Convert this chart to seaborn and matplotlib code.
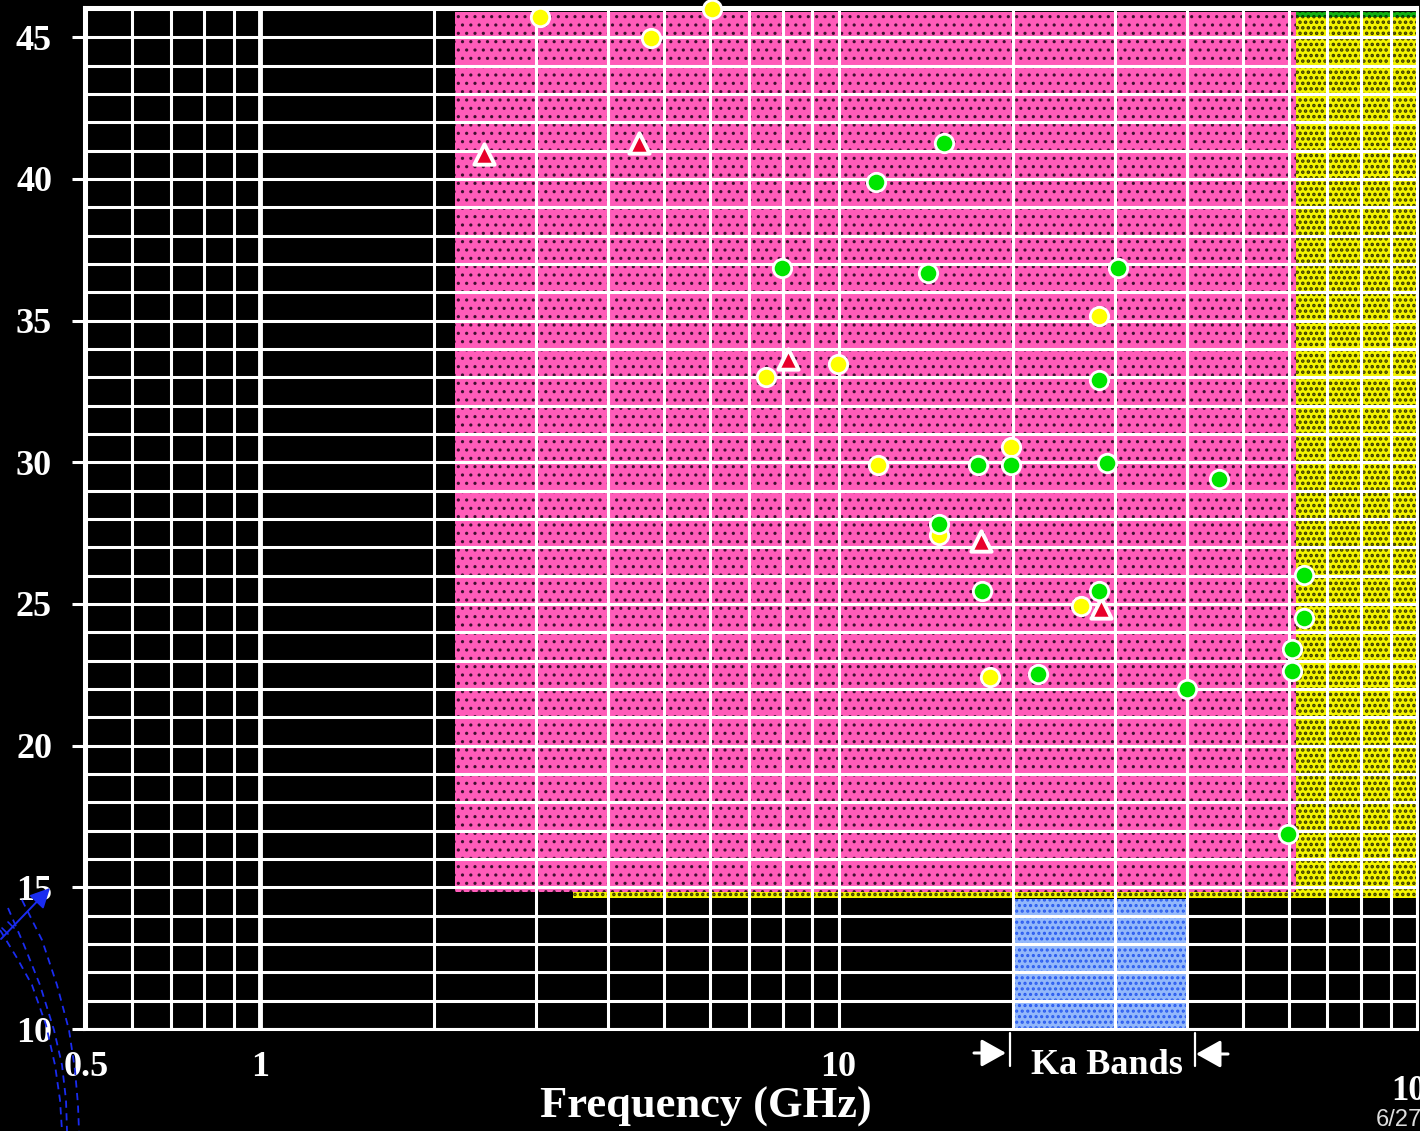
import numpy as np
import pandas as pd
import matplotlib
matplotlib.use("Agg")
import matplotlib.pyplot as plt
import matplotlib.ticker as mticker
import matplotlib.transforms as mtransforms
from matplotlib.patches import Rectangle, FancyArrowPatch
from matplotlib.lines import Line2D
import seaborn as sns

# ---- data -------------------------------------------------------------
yellow_freq = [3.05, 6.04, 4.74, 7.49, 9.98, 11.7, 14.9, 19.9, 18.3, 28.2, 26.2]
yellow_val = [45.72, 46.0, 44.98, 33.0, 33.47, 29.9, 27.43, 30.54, 22.42, 35.16, 24.93]

tri_freq = [2.44, 4.52, 8.18, 17.6, 28.4]
tri_val = [40.88, 41.27, 33.65, 27.22, 24.86]

green_freq = [15.2, 11.6, 7.99, 14.3, 30.4, 28.2, 17.4, 19.9, 29.1, 45.5,
              14.9, 17.7, 28.2, 63.8, 63.8, 60.8, 60.8, 22.1, 40.0, 59.8]
green_val = [41.27, 39.89, 36.86, 36.68, 36.86, 32.9, 29.9, 29.9, 29.97, 29.41,
             27.82, 25.46, 25.46, 26.02, 24.5, 23.4, 22.63, 22.52, 22.0, 16.88]

# shaded bands: (f_lo, f_hi, v_lo, v_hi)
band_names = ["green", "yellow", "pink", "ka"]
band_flo = [61.8, 3.48, 2.17, 20.0]
band_fhi = [100.0, 100.0, 61.8, 40.0]
band_vlo = [45.6, 14.62, 14.83, 10.0]
band_vhi = [45.89, 45.72, 45.89, 14.6]

y_ticks = [10, 15, 20, 25, 30, 35, 40, 45]
x_ticks = [0.5, 1, 10]
x_tick_labels = ["0.5", "1", "10"]

# ---- styling ----------------------------------------------------------
sns.set_theme(style="dark")
plt.rcParams["font.family"] = ["Liberation Serif", "DejaVu Serif"]
plt.rcParams["font.weight"] = "bold"

W, H = 1420, 1131
fig = plt.figure(figsize=(W / 100, H / 100), dpi=100, facecolor="black")


def fx(px):
    return px / W


def fy(py):
    return 1 - py / H


ax = fig.add_axes([fx(84), fy(1029), fx(1417) - fx(84), fy(7) - fy(1029)])
ax.set_facecolor("black")

band_face = {"green": "#12B012", "yellow": "#F4F400", "pink": "#FF5CB9", "ka": "#93B8FA"}
band_hatch_col = {"green": "#063806", "yellow": "#3A3A00", "pink": "#401030", "ka": "#2A5BF0"}
band_hatch = {"green": "...", "yellow": "...", "pink": "..", "ka": "..."}
band_hatch_lw = {"green": 1.6, "yellow": 1.7, "pink": 1.1, "ka": 1.5}

for name, f0, f1, v0, v1 in zip(band_names, band_flo, band_fhi, band_vlo, band_vhi):
    with plt.rc_context({"hatch.linewidth": band_hatch_lw[name]}):
        rect = Rectangle((f0, v0), f1 - f0, v1 - v0, facecolor=band_face[name],
                         edgecolor=band_hatch_col[name], hatch=band_hatch[name],
                         linewidth=0, zorder=1)
        if hasattr(rect, "set_hatch_linewidth"):
            rect.set_hatch_linewidth(band_hatch_lw[name])
        ax.add_patch(rect)

# ---- points (drawn yellow, then triangles, then green on top) ------------
yellow_df = pd.DataFrame({"freq": yellow_freq, "val": yellow_val})
tri_df = pd.DataFrame({"freq": tri_freq, "val": tri_val})
green_df = pd.DataFrame({"freq": green_freq, "val": green_val})

sns.scatterplot(data=yellow_df, x="freq", y="val", color="#FFFF00", marker="o",
                s=175, edgecolor="white", linewidth=2.0, zorder=4, clip_on=False,
                legend=False, ax=ax)
sns.scatterplot(data=tri_df, x="freq", y="val", color="#E8002A", marker="^",
                s=215, edgecolor="white", linewidth=2.8, zorder=4, clip_on=False,
                legend=False, ax=ax)
sns.scatterplot(data=green_df, x="freq", y="val", color="#00E600", marker="o",
                s=175, edgecolor="white", linewidth=2.0, zorder=4, clip_on=False,
                legend=False, ax=ax)

# ---- axes ---------------------------------------------------------------
ax.set_xscale("log")
ax.set_xlim(0.496, 100)
ax.set_ylim(10, 46.07)

ax.xaxis.set_major_locator(mticker.FixedLocator(x_ticks))
ax.xaxis.set_major_formatter(mticker.FixedFormatter(x_tick_labels))
ax.xaxis.set_minor_locator(mticker.LogLocator(base=10, subs=np.arange(1, 10), numticks=20))
ax.xaxis.set_minor_formatter(mticker.NullFormatter())
ax.yaxis.set_major_locator(mticker.FixedLocator(y_ticks))
ax.yaxis.set_minor_locator(mticker.MultipleLocator(1))

ax.set_axisbelow("line")
ax.grid(True, which="both", axis="both", color="white", linewidth=2.2)

ax.tick_params(axis="y", which="major", length=9, width=2.2, color="white",
               labelcolor="white", labelsize=26, pad=14, left=True)
ax.tick_params(axis="x", which="major", length=0, labelcolor="white", labelsize=26, pad=16)
ax.tick_params(which="minor", length=0)
for lab in ax.get_xticklabels() + ax.get_yticklabels():
    lab.set_fontweight("bold")

for sp in ax.spines.values():
    sp.set_color("white")
    sp.set_linewidth(2.2)

ax.axvline(1, color="white", linewidth=3.5, zorder=2)
ax.set_xlabel("")
ax.set_ylabel("")

# last tick label sits lower and runs off the edge
ax.text(100, fy(1091), "100",
        transform=mtransforms.blended_transform_factory(ax.transData, fig.transFigure),
        ha="center", va="center", color="white", fontsize=25, fontweight="bold",
        clip_on=False)

fig.text(fx(706), fy(1107), "Frequency (GHz)", ha="center", va="center",
         color="white", fontsize=32, fontweight="bold")

# Ka band marker below the axis
fig.text(fx(1107), fy(1065), "Ka Bands", ha="center", va="center",
         color="white", fontsize=26, fontweight="bold")
for xpx in (1010, 1195):
    fig.add_artist(Line2D([fx(xpx), fx(xpx)], [fy(1033), fy(1066)],
                          color="white", linewidth=1.6))
arrow_style = "-|>,head_length=0.75,head_width=0.42"
fig.add_artist(FancyArrowPatch((fx(974), fy(1053)), (fx(1006), fy(1053)),
                               transform=fig.transFigure, arrowstyle=arrow_style,
                               color="white", linewidth=2.2, mutation_scale=20,
                               shrinkA=0, shrinkB=0))
fig.add_artist(FancyArrowPatch((fx(1228), fy(1054)), (fx(1196), fy(1054)),
                               transform=fig.transFigure, arrowstyle=arrow_style,
                               color="white", linewidth=2.2, mutation_scale=20,
                               shrinkA=0, shrinkB=0))

fig.text(fx(1376), fy(1120), "6/27", ha="left", va="center", color="#DDDDDD",
         fontsize=17, fontweight="normal", family=["Liberation Sans", "DejaVu Sans"])

# blue sketch strokes in the lower left corner
fig.add_artist(FancyArrowPatch((fx(1), fy(939)), (fx(50), fy(888)),
                               transform=fig.transFigure, arrowstyle="-|>,head_length=0.6,head_width=0.3",
                               color="#1A2CF0", linewidth=1.4, mutation_scale=20,
                               shrinkA=0, shrinkB=0))
for tx in (5, 11):
    fig.add_artist(Line2D([fx(tx - 3), fx(tx + 3)], [fy(930 - tx + 3), fy(930 - tx + 9)],
                          color="#1A2CF0", linewidth=1.2))
curve_sets = [
    ([8, 24, 40, 54, 62, 66, 67], [908, 945, 985, 1030, 1065, 1100, 1131]),
    ([22, 42, 57, 69, 75, 78, 79], [900, 940, 985, 1030, 1070, 1105, 1131]),
    ([0, 17, 32, 46, 55, 60, 62], [930, 958, 985, 1025, 1065, 1100, 1131]),
]
for cx, cy in curve_sets:
    fig.add_artist(Line2D([fx(v) for v in cx], [fy(v) for v in cy], color="#1A2CF0",
                          linewidth=1.3, linestyle=(0, (4, 3))))

fig.savefig("out.png", dpi=100, facecolor="black")
